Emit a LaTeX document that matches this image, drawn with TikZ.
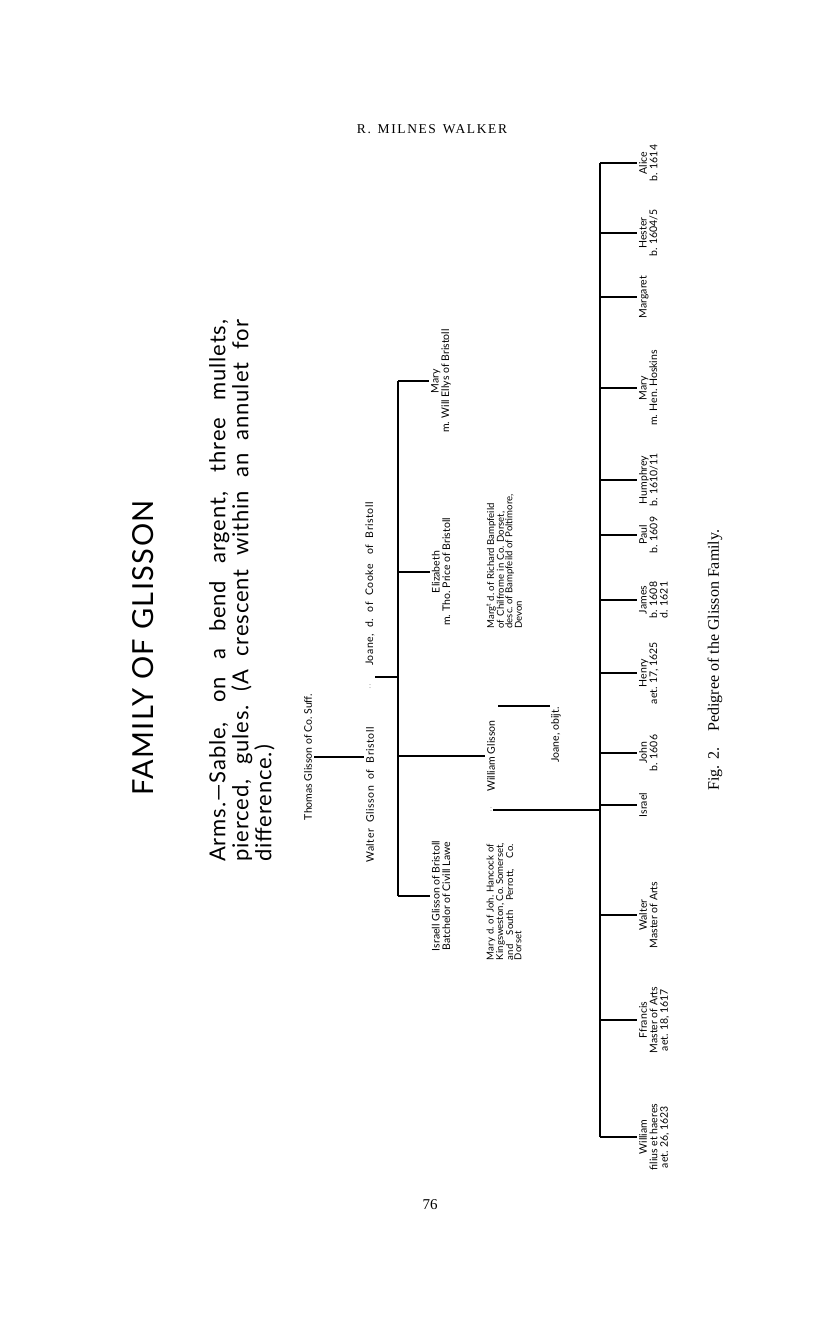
\documentclass[tikz,border=0pt]{standalone}
\usepackage{fontspec}
\setmainfont{Liberation Serif}
\newfontfamily\gillfont{Lato}
\newcommand\jline[1]{\leavevmode\hbox to \hsize{\spaceskip=2.5pt plus 1fil\relax #1}}
\begin{document}
\begin{tikzpicture}[x=1pt, y=-1pt,
    rule/.style={draw=black, line width=1.6pt},
    person/.style={rotate=90, inner sep=2pt, align=center,
        font=\gillfont\fontsize{10.5}{10.5}\selectfont},
    spaced/.style={person,
        font=\gillfont\fontsize{10.5}{10.5}\selectfont\addfontfeature{LetterSpace=5}},
    spouse/.style={person, align=left, inner sep=0pt,
        font=\gillfont\fontsize{9.6}{8.4}\selectfont},
    child/.style={person, anchor=north},
    wedlock/.style={text=black!40, inner sep=1pt, font=\gillfont\fontsize{8}{8}\selectfont}
]
    \path[use as bounding box] (0,0) rectangle (816,1334);

    % Page furniture.
    \node[font=\fontsize{13.5}{15}\selectfont\addfontfeature{LetterSpace=12}]
        (runhead) at (432,129) {R.\enspace MILNES\enspace WALKER};
    \node[font=\fontsize{15}{17}\selectfont] (folio) at (430,1205) {76};
    \node[rotate=90, font=\fontsize{16}{18}\selectfont]
        (caption) at (715,660) {Fig. 2.\quad Pedigree of the Glisson Family.};

    % Title and arms.
    \node[rotate=90, font=\gillfont\fontsize{29}{32}\selectfont\addfontfeature{LetterSpace=5}]
        (title) at (143,648) {FAMILY OF GLISSON};
    \node[rotate=90, anchor=north west, text width=542pt, align=justify,
        inner sep=0pt, font=\gillfont\fontsize{22}{23}\selectfont\addfontfeature{LetterSpace=4}]
        (arms) at (209,862) {Arms.—Sable, on a bend argent, three mullets,\linebreak
        pierced, gules.\ (A crescent within an annulet for\linebreak difference.)};

    % First and second generations.
    \node[person] (thomas) at (308,757) {Thomas Glisson of Co.\ Suff.};
    \node[spaced] (walter) at (370,795) {Walter\ \ Glisson\ \ of\ \ Bristoll};
    \node[wedlock] (wjmark) at (370,687) {:};
    \node[spaced] (joane) at (370,584) {Joane,\ \ d.\ \ of\ \ Cooke\ \ \ of\ \ Bristoll};
    \draw[rule] (thomas.south) -- (thomas.south -| walter.north);

    \coordinate (wkids) at (398,677);
    \draw[rule] (375,677) -- (wkids);

    % Children of Walter.
    \node[person] (israell) at (441,896) {Israell Glisson of Bristoll\\Batchelor of Civill Lawe};
    \node[person] (elizabeth) at (441,572) {Elizabeth\\m. Tho.\ Price of Bristoll};
    \node[person] (marye) at (441,381) {Mary\\m. Will Ellys of Bristoll};
    \node[person] (william) at (491,756) {William Glisson};
    \draw[rule] (wkids |- marye.north) -- (wkids |- israell.north);
    \foreach \k in {israell, elizabeth, marye, william}
        \draw[rule] (wkids |- \k.north) -- (\k.north);

    % The two wives of William.
    \node[spouse, text width=116pt] (maryh) at (504,902)
        {\jline{Mary d.\ of Joh.\ Hancock of}\\\jline{Kingsweston, Co.\ Somerset,}\\
        \jline{and South Perrott, Co.}\\Dorset};
    \node[wedlock] (wmmark) at (491,810) {:};
    \node[spouse, text width=117pt] (margt) at (504,570)
        {\jline{Marg\textsuperscript{t} d.\ of Richard Bampfeild}\\\jline{of Chilfrome in Co.\ Dorset,}\\
        \jline{desc.\ of Bampfeild of Poltimore,}\\Devon};
    \node[person, inner sep=1pt] (joanej) at (556,735) {Joane, obijt.};
    \coordinate (wmline) at (498,706);
    \draw[rule] (wmline) -- (wmline -| joanej.north);

    % Children of William and Mary.
    \coordinate (mkids) at (600,810);
    \draw[rule] (wmmark.east) -- (mkids);
    \node[child] (alice)     at (637,163)  {Alice\\b. 1614};
    \node[child] (hester)    at (637,233)  {Hester\\b. 1604/5};
    \node[child] (margaret)  at (637,297)  {Margaret};
    \node[child] (marym)     at (637,388)  {Mary\\m. Hen.\ Hoskins};
    \node[child] (humphrey)  at (637,480)  {Humphrey\\b. 1610/11};
    \node[child] (paul)      at (637,535)  {Paul\\b. 1609};
    \node[child] (james)     at (637,600)  {James\\b. 1608\\d. 1621};
    \node[child] (henry)     at (637,673)  {Henry\\aet. 17, 1625};
    \node[child] (john)      at (637,753)  {John\\b. 1606};
    \node[child] (israel)    at (637,805)  {Israel};
    \node[child] (walterm)   at (637,915)  {Walter\\Master of Arts};
    \node[child] (ffrancis)  at (637,1020) {Ffrancis\\Master of Arts\\aet. 18, 1617};
    \node[child] (williamf)  at (637,1137) {William\\filius et haeres\\aet. 26, 1623};
    \draw[rule] (mkids |- alice.north) -- (mkids |- williamf.north);
    \foreach \k in {alice, hester, margaret, marym, humphrey, paul, james,
            henry, john, israel, walterm, ffrancis, williamf}
        \draw[rule] (mkids |- \k.north) -- (\k.north);
\end{tikzpicture}
\end{document}
